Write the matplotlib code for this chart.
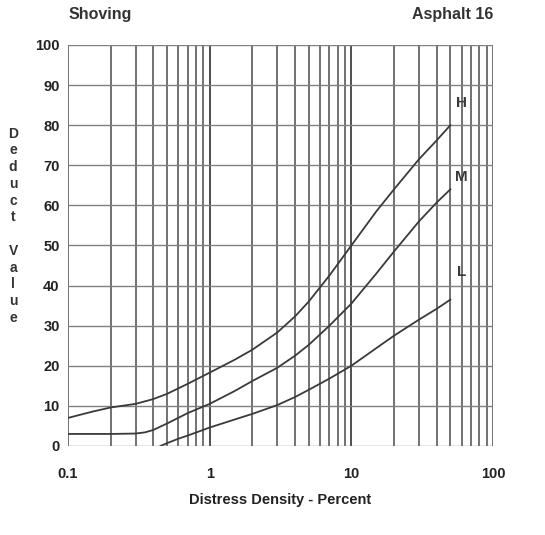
import numpy as np
import matplotlib
matplotlib.use("Agg")
import matplotlib.pyplot as plt

plt.rcParams["font.family"] = ["Liberation Sans", "DejaVu Sans"]

# curve readings (distress density %, deduct value)
h_x = [0.1, 0.15, 0.2, 0.3, 0.4, 0.5, 0.7, 1, 1.5, 2, 3, 4, 5, 7, 10, 15, 20, 30, 40, 50]
h_y = [7, 8.6, 9.6, 10.5, 11.7, 13, 15.5, 18.3, 21.5, 24, 28.3, 32.3, 36, 42.5, 50, 58.5, 64, 71.5, 76.2, 80]
m_x = [0.1, 0.2, 0.3, 0.35, 0.4, 0.5, 0.7, 1, 1.5, 2, 3, 4, 5, 7, 10, 15, 20, 30, 40, 50]
m_y = [3, 3, 3.1, 3.4, 4.0, 5.6, 8.2, 10.5, 13.7, 16.2, 19.5, 22.5, 25.2, 30, 35.5, 43, 48.5, 56, 60.7, 64]
l_x = [0.45, 0.5, 0.6, 0.7, 1, 1.5, 2, 3, 4, 5, 7, 10, 15, 20, 30, 40, 50]
l_y = [0, 0.7, 1.8, 2.6, 4.6, 6.6, 8.0, 10.2, 12.2, 14, 16.8, 20.0, 24.4, 27.5, 31.5, 34.2, 36.5]
y_ticks = [0, 10, 20, 30, 40, 50, 60, 70, 80, 90, 100]
x_ticks = [0.1, 1, 10, 100]
x_ticklabels = ["0.1", "1", "10", "100"]

INK = "#3a3a3a"

fig = plt.figure(figsize=(5.45, 5.35), dpi=100)
ax = fig.add_axes([0.1248, 0.1664, 0.7798, 0.7495])
ax.set_xscale("log")
ax.set_xlim(0.1, 100)
ax.set_ylim(0, 100)

# grid: verticals at every log step, horizontals every 10
for dec in [0.1, 1, 10]:
    for k in range(1, 11):
        ax.axvline(dec * k, color="#4a4a4a", lw=1.1, zorder=1)
for yv in y_ticks:
    ax.axhline(yv, color="#808080", lw=1.0, zorder=1)

for xs, ys in [(h_x, h_y), (m_x, m_y), (l_x, l_y)]:
    ax.plot(xs, ys, color=INK, lw=1.3, zorder=3, solid_joinstyle="round")

ax.text(60, 85.5, "H", ha="center", va="center", fontsize=11, fontweight="bold", color=INK)
ax.text(60, 67, "M", ha="center", va="center", fontsize=11, fontweight="bold", color=INK)
ax.text(60, 43.5, "L", ha="center", va="center", fontsize=11, fontweight="bold", color=INK)

for s in ax.spines.values():
    s.set_visible(False)
ax.set_yticks(y_ticks)
ax.set_xticks(x_ticks)
ax.set_xticklabels(x_ticklabels)
ax.minorticks_off()
ax.tick_params(length=0, labelsize=10.5, colors="#222222")
ax.tick_params(axis="x", pad=15)
ax.tick_params(axis="y", pad=6)
for t in ax.get_xticklabels() + ax.get_yticklabels():
    t.set_fontweight("bold")
ax.set_xlabel("Distress Density - Percent", fontsize=10.5, fontweight="bold", color="#222222", labelpad=9)

fig.text(0.125, 0.972, "Shoving", fontsize=11.5, fontweight="bold", color="#333333", va="center")
fig.text(0.905, 0.972, "Asphalt 16", fontsize=11.5, fontweight="bold", color="#333333", va="center", ha="right")
fig.text(0.024, 0.578, "D\ne\nd\nu\nc\nt\n\nV\na\nl\nu\ne", fontsize=10, fontweight="bold",
         color="#333333", ha="center", va="center", linespacing=1.25)

fig.savefig("out.png", dpi=100, facecolor="white")
